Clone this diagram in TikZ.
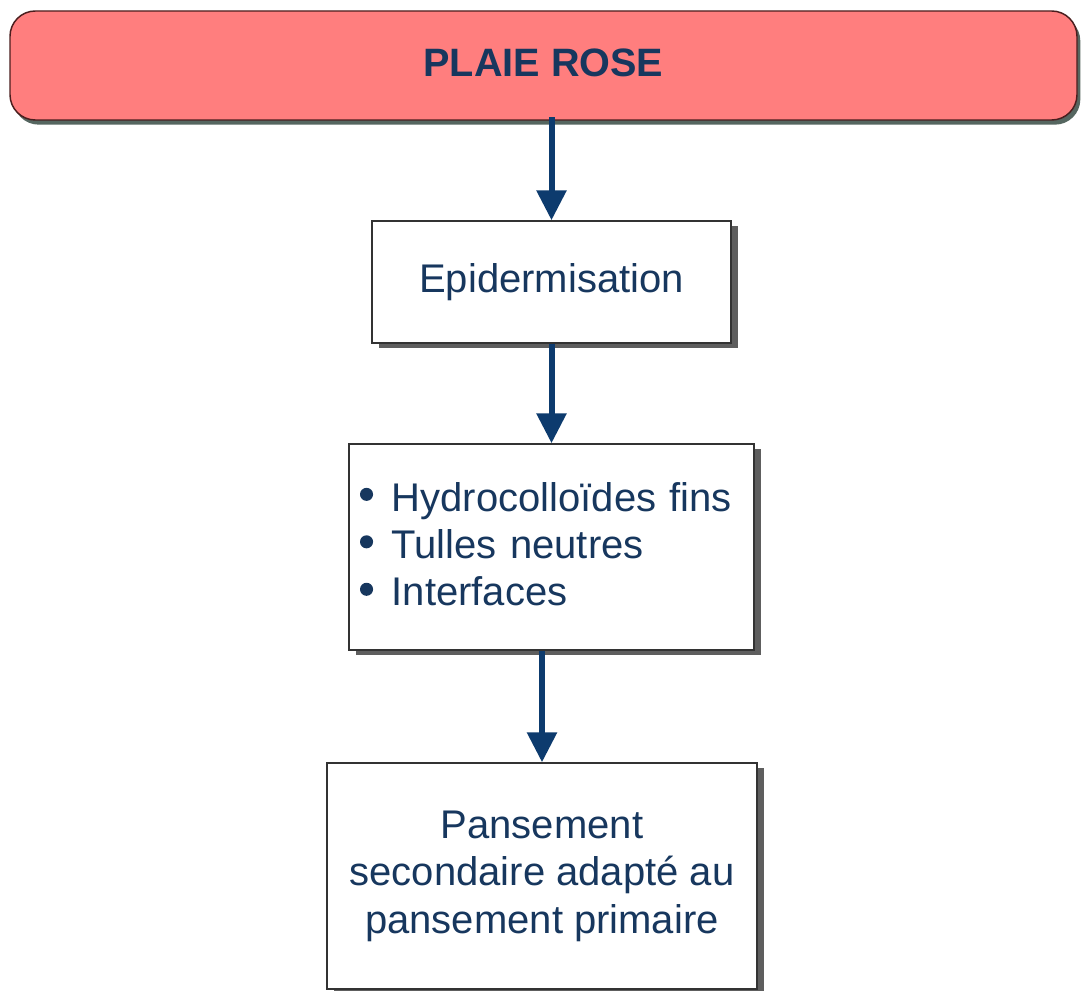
\documentclass[tikz,border=0pt]{standalone}
\usepackage{fontspec}
\setmainfont{Liberation Sans}
\usetikzlibrary{arrows.meta,shadows}
\definecolor{bannerfill}{HTML}{FF7E7E}
\definecolor{bannerdraw}{HTML}{4A1E1E}
\definecolor{bannershadow}{HTML}{556660}
\definecolor{txtblue}{HTML}{17375E}
\definecolor{arrowblue}{HTML}{0D3B6E}
\definecolor{boxshadow}{HTML}{5E5E5E}
\definecolor{boxdraw}{HTML}{333333}
\newcommand\mybul{\makebox[23.8pt][l]{\tikz[baseline=-12.5pt]\fill[txtblue] (4.9pt,0pt) circle[radius=4.9pt];}}
\begin{document}
\begin{tikzpicture}[x=0.75pt,y=-0.75pt,
  banner/.style={draw=bannerdraw, line width=1.1pt, fill=bannerfill,
    rounded corners=19pt, minimum width=800.25pt, minimum height=81.75pt,
    inner sep=0pt, text=txtblue, font=\fontsize{29.7}{34}\selectfont\bfseries,
    drop shadow={shadow xshift=2.5pt, shadow yshift=-3.5pt, fill=bannershadow, opacity=1}},
  stepbox/.style={draw=boxdraw, line width=1.1pt, fill=white, inner sep=0pt,
    text=txtblue, align=center, font=\fontsize{30}{35.6}\selectfont,
    drop shadow={shadow xshift=5pt, shadow yshift=-3.5pt, fill=boxshadow, opacity=1}},
  flow/.style={draw=arrowblue, line width=4.5pt,
    -{Triangle[width=21.75pt,length=22.5pt]}}
]
\useasboundingbox (0,0) rectangle (1081,991);
\fill[white] (0,0) rectangle (1081,991);

\node[banner] (plaie) at (543.5,65.5) {PLAIE ROSE\rule[-3.75pt]{0pt}{0pt}};

\node[stepbox, minimum width=269.25pt, minimum height=91.5pt] (epi) at (551.5,282)
  {Epidermisation};

\node[stepbox, align=left, text width=287.25pt, inner xsep=8.25pt,
      minimum height=154.5pt] (list) at (551.5,547)
  {\mybul Hydrocolloïdes fins\\\mybul Tulles neutres\\\mybul Interfaces\rule[-4.5pt]{0pt}{0pt}};

\node[stepbox, minimum width=322.5pt, minimum height=169.5pt] (pans) at (542,876)
  {Pansement\\secondaire adapté au\\pansement primaire};

\draw[flow] ([yshift=2.5pt]epi.north |- plaie.south) -- (epi.north);
\draw[flow] (epi.south) -- (list.north);
\draw[flow] (pans.north |- list.south) -- (pans.north);
\end{tikzpicture}
\end{document}
